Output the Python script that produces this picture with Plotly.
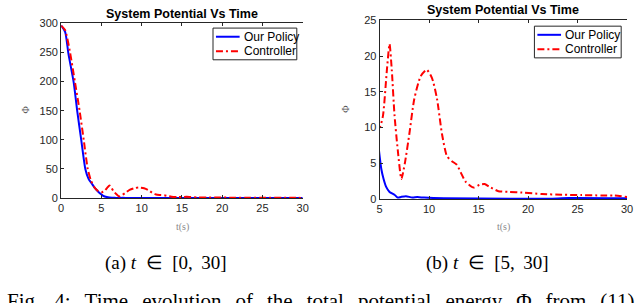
import plotly.graph_objects as go

# ---- data ----
t_policy = [0, 0.5, 0.9, 1.55, 2.0, 2.5, 3.0, 3.4, 3.8, 4.2, 4.6, 5.0, 5.17, 5.4, 5.66,
            6.0, 6.5, 6.83, 7.16, 7.66, 8.3, 8.8, 9.5, 11.5, 18.8, 22.1, 24.1, 30]
phi_policy = [296, 285, 248, 199, 149, 99, 50, 33, 25, 17, 11, 6.0, 4.2, 2.8, 1.7,
              1.0, 0.6, 0.2, 0.3, 0.4, 0.2, 0.27, 0.2, 0.1, 0.05, 0.04, 0.13, 0.1]

t_ctrl = [0, 0.5, 1.1, 1.7, 2.3, 2.8, 3.3, 3.7, 4.2, 4.6, 5.0, 5.33, 5.73, 6.0, 6.23,
          6.5, 6.83, 7.2, 7.56, 8.0, 8.5, 9.15, 9.75, 10.3, 10.8, 11.3, 11.8, 12.3,
          12.8, 13.2, 13.7, 14.5, 15.1, 15.6, 16.1, 17.0, 18.1, 19.4, 21.4, 23.4,
          25.4, 27.4, 28.7, 30]
phi_ctrl = [296, 288, 250, 200, 149, 100, 50, 30, 17, 12, 10.0, 11.6, 18.0, 21.7, 18.0,
            11.8, 6.9, 2.8, 5.1, 9.1, 14.0, 17.2, 18.1, 16.9, 14.0, 9.1, 6.0, 5.3,
            4.8, 3.7, 2.4, 1.6, 2.0, 2.1, 1.7, 1.1, 1.0, 0.9, 0.7, 0.6,
            0.55, 0.5, 0.5, 0.27]

series_names = ["Our Policy", "Controller"]
title_text = "System Potential Vs Time"
x_ticks_a = [0, 5, 10, 15, 20, 25, 30]
y_ticks_a = [0, 50, 100, 150, 200, 250, 300]
x_ticks_b = [5, 10, 15, 20, 25, 30]
y_ticks_b = [0, 5, 10, 15, 20, 25]
captions = ["(a) <i>t</i>\u2002∈\u2002[0,\u2009 30]", "(b) <i>t</i>\u2002∈\u2002[5,\u2009 30]"]
fig_words = ["Fig.", "4:", "Time", "evolution", "of", "the", "total", "potential", "energy",
             "Φ", "from", "(11)"]

W, H = 640, 303
def px(x):
    return x / W
def py(y):
    return 1 - y / H

fig = go.Figure()

AX = "#262626"
DASH = "7px,3px,2px,3px"
for xa, ya in [("x", "y"), ("x2", "y2")]:
    fig.add_trace(go.Scatter(x=t_policy, y=phi_policy, mode="lines", name=series_names[0],
                             line=dict(color="#0000FF", width=2, shape="spline", smoothing=0.6),
                             xaxis=xa, yaxis=ya, showlegend=False))
    fig.add_trace(go.Scatter(x=t_ctrl, y=phi_ctrl, mode="lines", name=series_names[1],
                             line=dict(color="#FF0000", width=2, dash=DASH,
                                       shape="spline", smoothing=0.6),
                             xaxis=xa, yaxis=ya, showlegend=False))

axis_common = dict(showgrid=False, zeroline=False, showline=True, linecolor=AX, linewidth=1,
                   ticks="inside", ticklen=3, tickcolor=AX, tickwidth=1,
                   tickfont=dict(family="Liberation Sans, Arial", size=11, color=AX))

fig.update_layout(
    width=W, height=H, margin=dict(l=0, r=0, t=0, b=0),
    paper_bgcolor="white", plot_bgcolor="white", showlegend=False,
    xaxis=dict(domain=[px(59), px(304)], range=[0, 30], tickvals=x_ticks_a,
               anchor="y", mirror="ticks", **axis_common),
    yaxis=dict(domain=[py(200), py(18)], range=[0, 300], tickvals=y_ticks_a,
               anchor="x", **axis_common),
    xaxis2=dict(domain=[px(382), px(633)], range=[5, 30], tickvals=x_ticks_b,
                anchor="y2", mirror="ticks", **axis_common),
    yaxis2=dict(domain=[py(201), py(15)], range=[0, 25], tickvals=y_ticks_b,
                anchor="x2", **axis_common),
)

def A(text, x, y, size, family, color="black", xanchor="center", yanchor="middle", **kw):
    return dict(text=text, x=px(x), y=py(y), xref="paper", yref="paper", showarrow=False,
                xanchor=xanchor, yanchor=yanchor,
                font=dict(family=family, size=size, color=color), **kw)

SANS = "Liberation Sans, Arial"
SERIF = "Liberation Serif, Times New Roman"
ann = []
ann.append(A("<b>%s</b>" % title_text, 182, 8, 12.5, SANS))
ann.append(A("<b>%s</b>" % title_text, 507, 4, 12.5, SANS))
for cx in (182, 508):
    ann.append(A("t(s)", cx, 230, 10, SERIF, color="#8a8a8a"))
for cx in (23, 348):
    ann.append(A("Φ", cx, 108, 10, SERIF, color="#555555", textangle=-90))
ann.append(A(captions[0], 165, 268, 19, SERIF))
ann.append(A(captions[1], 491, 268, 19, SERIF))
ann.append(A("&nbsp;&nbsp;\u2006".join(fig_words), 2, 307, 21, SERIF, xanchor="left"))

shapes = []
legends = [(213, 23, 298, 56), (539, 21, 627, 54)]
for (x0, y0, x1, y1) in legends:
    shapes.append(dict(type="rect", xref="paper", yref="paper", x0=px(x0), x1=px(x1),
                       y0=py(y1), y1=py(y0), line=dict(color=AX, width=1), fillcolor="white",
                       layer="above"))
    r1 = y0 + 9
    r2 = y0 + 24
    shapes.append(dict(type="line", xref="paper", yref="paper", x0=px(x0 + 3), x1=px(x0 + 27),
                       y0=py(r1), y1=py(r1), line=dict(color="#0000FF", width=2), layer="above"))
    shapes.append(dict(type="line", xref="paper", yref="paper", x0=px(x0 + 3), x1=px(x0 + 27),
                       y0=py(r2), y1=py(r2), line=dict(color="#FF0000", width=2, dash=DASH),
                       layer="above"))
    for name, r in zip(series_names, [r1, r2]):
        ann.append(A(name, x0 + 29, r, 12, SANS, xanchor="left"))

fig.update_layout(annotations=ann, shapes=shapes)
fig.write_html("out.html", config={"displayModeBar": False},
               post_script="document.body.style.margin='0';document.body.style.overflow='hidden';")
